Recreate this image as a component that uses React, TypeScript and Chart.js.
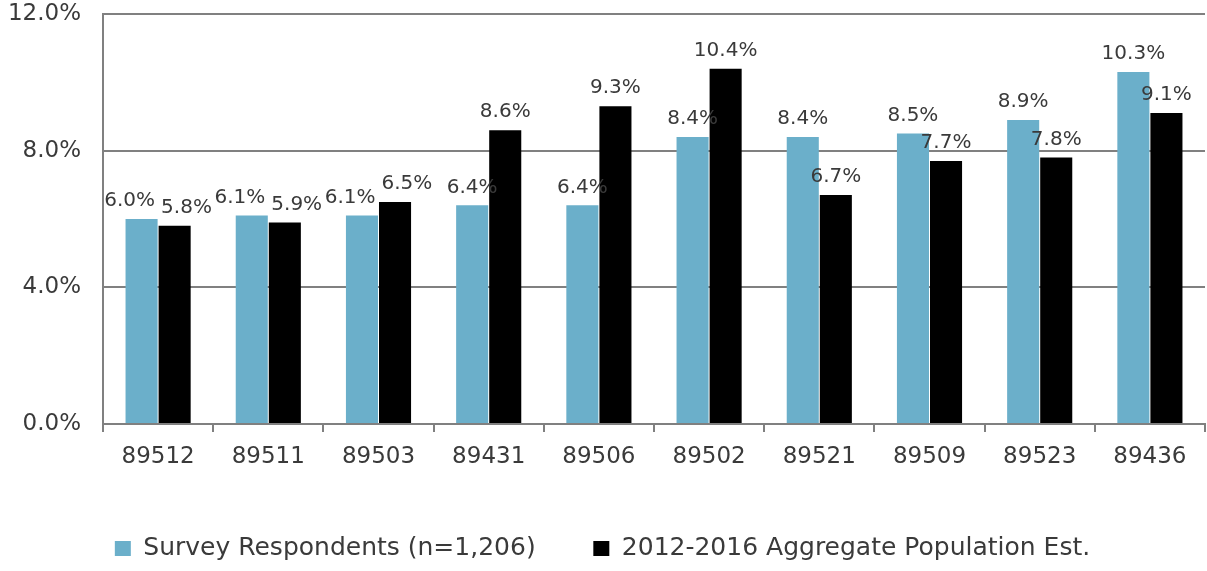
import React, { useEffect, useRef } from "react";
import { Chart, registerables } from "chart.js";

Chart.register(...registerables);

const categories = ["89512", "89511", "89503", "89431", "89506", "89502", "89521", "89509", "89523", "89436"];
const surveyRespondents = [6.0, 6.1, 6.1, 6.4, 6.4, 8.4, 8.4, 8.5, 8.9, 10.3];
const populationEst = [5.8, 5.9, 6.5, 8.6, 9.3, 10.4, 6.7, 7.7, 7.8, 9.1];
const seriesNames = ["Survey Respondents (n=1,206)", "2012-2016 Aggregate Population Est."];
const yTicks = [0, 4, 8, 12];

const FONT = "'DejaVu Sans', sans-serif";
const TEXT = "#3a3a3a";
const BLUE = "#6BAFCA";
const GRID = "#808080";

// Draws value labels above bars; labels of the same category that collide are pushed apart sideways.
const dataLabels = {
  id: "dataLabels",
  afterDatasetsDraw(chart: any) {
    const ctx = chart.ctx;
    ctx.save();
    ctx.font = `20px ${FONT}`;
    ctx.fillStyle = TEXT;
    ctx.textAlign = "center";
    ctx.textBaseline = "bottom";
    const h = 16;
    const metaA = chart.getDatasetMeta(0);
    const metaB = chart.getDatasetMeta(1);
    const dsA = chart.data.datasets[0].data;
    const dsB = chart.data.datasets[1].data;
    for (let i = 0; i < dsA.length; i++) {
      const a = metaA.data[i];
      const b = metaB.data[i];
      const ta = dsA[i].toFixed(1) + "%";
      const tb = dsB[i].toFixed(1) + "%";
      let xa = a.x;
      let xb = b.x;
      const ya = a.y - 8;
      const yb = b.y - 8;
      const wa = ctx.measureText(ta).width;
      const wb = ctx.measureText(tb).width;
      const need = (wa + wb) / 2 + 6;
      if (Math.abs(ya - yb) < h && xb - xa < need) {
        const push = (need - (xb - xa)) / 2;
        xa -= push;
        xb += push;
      }
      ctx.fillText(ta, xa, ya);
      ctx.fillText(tb, xb, yb);
    }
    ctx.restore();
  },
};

export default function App() {
  const ref = useRef<HTMLCanvasElement>(null);
  useEffect(() => {
    document.body.style.margin = "0";
    const chart = new Chart(ref.current!, {
      type: "bar",
      data: {
        labels: categories,
        datasets: [
          { label: seriesNames[0], data: surveyRespondents, backgroundColor: BLUE },
          { label: seriesNames[1], data: populationEst, backgroundColor: "#000000" },
        ],
      },
      options: {
        animation: false,
        responsive: false,
        maintainAspectRatio: false,
        layout: { padding: { top: 14, right: 2, left: 0, bottom: 0 } },
        datasets: { bar: { categoryPercentage: 0.6, barPercentage: 0.97 } },
        plugins: {
          tooltip: { enabled: false },
          legend: {
            position: "bottom",
            labels: {
              font: { family: FONT, size: 25 },
              color: TEXT,
              boxWidth: 16,
              boxHeight: 15,
              padding: 10,
              generateLabels(chart: any) {
                const items = Chart.defaults.plugins.legend.labels.generateLabels(chart);
                items.forEach((it: any, i: number) => {
                  it.lineWidth = 0;
                  if (i === 0) it.text = it.text + "      ";
                });
                return items;
              },
            },
          },
        },
        scales: {
          x: {
            offset: true,
            grid: { display: true, offset: true, drawOnChartArea: false, drawTicks: true, tickLength: 8, color: GRID, lineWidth: 2 },
            border: { display: true, color: GRID, width: 2 },
            ticks: { font: { family: FONT, size: 23 }, color: TEXT, padding: 11, maxRotation: 0 },
            afterFit(scale: any) { scale.height = 102; },
          },
          y: {
            min: 0,
            max: 12,
            afterBuildTicks(scale: any) { scale.ticks = yTicks.map((v) => ({ value: v })); },
            grid: { color: GRID, lineWidth: 2, drawTicks: false },
            border: { display: true, color: GRID, width: 2 },
            ticks: {
              font: { family: FONT, size: 23 },
              color: TEXT,
              padding: 22,
              callback: (v: any) => Number(v).toFixed(1) + "%",
            },
            afterFit(scale: any) {
              scale.width = 103;
              scale.paddingTop = 0;
              scale.paddingBottom = 0;
            },
          },
        },
      },
      plugins: [dataLabels],
    });
    return () => chart.destroy();
  }, []);
  return <canvas ref={ref} width={1207} height={571} style={{ display: "block" }} />;
}
